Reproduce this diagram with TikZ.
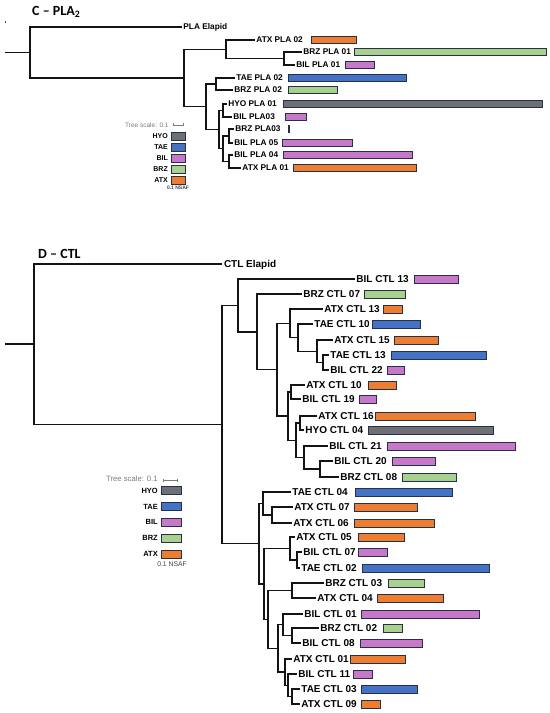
\documentclass[tikz,border=0pt]{standalone}
\usepackage{fontspec}
\setmainfont{Liberation Sans}
\newfontfamily\titlefont{Carlito}
\usetikzlibrary{arrows.meta}
\definecolor{cHYO}{RGB}{110,112,117}
\definecolor{cTAE}{RGB}{68,114,196}
\definecolor{cBIL}{RGB}{200,120,200}
\definecolor{cBRZ}{RGB}{169,209,142}
\definecolor{cATX}{RGB}{237,125,49}
\definecolor{barline}{RGB}{38,48,72}
\definecolor{scalegray}{RGB}{125,125,125}
\definecolor{branch}{RGB}{20,20,20}
\tikzset{
  br/.style={line width=1.3bp, draw=branch},
  barbox/.style={draw=barline, line width=0.9bp},
  labC/.style={anchor=west, inner xsep=1.2bp, inner ysep=0bp, text height=5.95bp, text depth=0bp,
    font=\fontsize{8.3bp}{10bp}\selectfont\bfseries},
  labD/.style={anchor=west, inner xsep=1.2bp, inner ysep=0bp, text height=7.2bp, text depth=0bp,
    font=\fontsize{10bp}{12bp}\selectfont\bfseries},
  titlelab/.style={anchor=base west, inner sep=0pt, font=\titlefont\fontsize{14bp}{16bp}\selectfont\bfseries},
  tscale/.style={anchor=west, inner sep=0pt, text=scalegray},
  scalebar/.style={draw=scalegray, line width=0.8bp, {Bar[width=3bp]}-{Bar[width=3bp]}},
  leglab/.style={anchor=east, inner sep=0pt, text height=5bp, text depth=0bp},
  nsaf/.style={inner sep=0pt, text=black!75},
}
\newcommand\leafC[7]{%
  \node[labC] (#1) at (#2,#3) {#4};
  \draw[barbox,fill=#7] (#5,#3-3.7) rectangle (#6,#3+3.7);}
\newcommand\leafD[7]{%
  \node[labD] (#1) at (#2,#3) {#4};
  \draw[barbox,fill=#7] (#5,#3-4) rectangle (#6,#3+4);}
\newcommand\elb[2]{\draw[br] (#1) |- (#2);}
\begin{document}
\begin{tikzpicture}[x=1bp,y=-1bp]
\useasboundingbox (0,0) rectangle (550,713);
\fill[white] (0,0) rectangle (550,713);

%% ================= C - PLA2 =================
\node[titlelab] (ctitle) at (32,15.5) {C – PLA\textsubscript{2}};
\fill[black!70] (4.5,21.5) rectangle (5.5,23.5);

\coordinate (croot) at (5,52.5);
\coordinate (c0) at (30,52.5);
\coordinate (c1) at (184,78);
\coordinate (c2) at (226,49.5);
\coordinate (c3) at (206,106.5);
\coordinate (c4) at (284,58.5);
\coordinate (c5) at (216,84);
\coordinate (c6) at (219,129.25);
\coordinate (c7) at (223,110.5);
\coordinate (c8) at (223,148.75);
\coordinate (c9) at (229,136);
\coordinate (c10) at (229,161.5);

\node[labC] (pEl) at (182,27) {PLA Elapid};
\leafC{pA02}{255}{40}{ATX PLA 02}{311}{356}{cATX}
\leafC{pZ01}{302}{52}{BRZ PLA 01}{354}{546}{cBRZ}
\leafC{pB01}{295}{65}{BIL PLA 01}{345}{374}{cBIL}
\leafC{pT02}{235}{78}{TAE PLA 02}{288}{406}{cTAE}
\leafC{pZ02}{233}{90}{BRZ PLA 02}{288}{337}{cBRZ}
\leafC{pH01}{227}{104}{HYO PLA 01}{283}{542}{cHYO}
\leafC{pB03}{232}{117}{BIL PLA03}{285}{306}{cBIL}
\leafC{pZ03}{234}{129}{BRZ PLA03}{288.6}{289.4}{cBRZ}
\leafC{pB05}{233}{143}{BIL PLA 05}{282}{352}{cBIL}
\leafC{pB04}{233}{155}{BIL PLA 04}{283}{412}{cBIL}
\leafC{pA01}{241}{168}{ATX PLA 01}{293}{416}{cATX}

\draw[br] (croot) -- (c0);
\elb{c0}{pEl.west} \elb{c0}{c1}
\elb{c1}{c2} \elb{c1}{c3}
\elb{c2}{pA02.west} \elb{c2}{c4}
\elb{c4}{pZ01.west} \elb{c4}{pB01.west}
\elb{c3}{c5} \elb{c3}{c6}
\elb{c5}{pT02.west} \elb{c5}{pZ02.west}
\elb{c6}{c7} \elb{c6}{c8}
\elb{c7}{pH01.west} \elb{c7}{pB03.west}
\elb{c8}{c9} \elb{c8}{c10}
\elb{c9}{pZ03.west} \elb{c9}{pB05.west}
\elb{c10}{pB04.west} \elb{c10}{pA01.west}

% legend C
\node[tscale, font=\fontsize{6.5bp}{8bp}\selectfont] (ctsl) at (125,125) {Tree scale: 0.1};
\coordinate (csa) at (173,125);
\coordinate (csb) at (184,125);
\draw[scalebar] (csa) -- (csb);
\foreach \nm/\col/\yy in {HYO/cHYO/136,TAE/cTAE/147,BIL/cBIL/158,BRZ/cBRZ/169,ATX/cATX/180}{
  \node[leglab, font=\fontsize{7bp}{8bp}\selectfont\bfseries, text height=5bp] (cleg\nm) at (168,\yy) {\nm};
  \draw[barbox,fill=\col] (171,\yy-4) rectangle (185,\yy+4);
}
\node[nsaf, font=\fontsize{5bp}{6bp}\selectfont\bfseries] (cnsaf) at (178,188) {0.1 NSAF};

%% ================= D - CTL =================
\node[titlelab] (dtitle) at (38,258.5) {D – CTL};

\coordinate (droot) at (5,344);
\coordinate (d0) at (34,344);
\coordinate (d1) at (222,424.6);
\coordinate (d2) at (238,305.5);
\coordinate (d3) at (257,332);
\coordinate (d4) at (277,369.75);
\coordinate (d5) at (290,323.3);
\coordinate (d7) at (298,337.6);
\coordinate (d8) at (317,351.25);
\coordinate (d9) at (323,362.5);
\coordinate (d6) at (288,416);
\coordinate (d10) at (291,392);
\coordinate (d11) at (296,440.25);
\coordinate (d12) at (300,423);
\coordinate (d13) at (304,457.5);
\coordinate (d14) at (320,469);
\coordinate (d15) at (259,543.75);
\coordinate (d16) at (263,503.5);
\coordinate (d18) at (272,515);
\coordinate (d17) at (264,584);
\coordinate (d19) at (290,548.5);
\coordinate (d21) at (297,560);
\coordinate (d20) at (268,619.5);
\coordinate (d22) at (292,590.5);
\coordinate (d23) at (278,648.4);
\coordinate (d24) at (283,624.75);
\coordinate (d26) at (292,635.5);
\coordinate (d25) at (285,672.1);
\coordinate (d27) at (288,685.25);
\coordinate (d28) at (292,696.5);

\node[labD, inner xsep=1.8bp] (dEl) at (222,264) {CTL Elapid};
\leafD{dB13}{355}{279}{BIL CTL 13}{414}{458}{cBIL}
\leafD{dZ07}{302}{294}{BRZ CTL 07}{364}{405}{cBRZ}
\leafD{dA13}{323}{309}{ATX CTL 13}{383}{402}{cATX}
\leafD{dT10}{313}{324}{TAE CTL 10}{372}{420}{cTAE}
\leafD{dA15}{333}{340}{ATX CTL 15}{394}{438}{cATX}
\leafD{dT13}{329}{355}{TAE CTL 13}{391}{486}{cTAE}
\leafD{dB22}{329}{370}{BIL CTL 22}{387}{404}{cBIL}
\leafD{dA10}{305}{385}{ATX CTL 10}{368}{396}{cATX}
\leafD{dB19}{301}{399}{BIL CTL 19}{359}{376}{cBIL}
\leafD{dA16}{317}{416}{ATX CTL 16}{375}{475}{cATX}
\leafD{dH04}{304}{430}{HYO CTL 04}{368}{493}{cHYO}
\leafD{dB21}{328}{446}{BIL CTL 21}{387}{515}{cBIL}
\leafD{dB20}{333}{461}{BIL CTL 20}{392}{435}{cBIL}
\leafD{dZ08}{339}{477}{BRZ CTL 08}{402}{456}{cBRZ}
\leafD{dT04}{291}{492}{TAE CTL 04}{355}{452}{cTAE}
\leafD{dA07}{293}{507}{ATX CTL 07}{354}{417}{cATX}
\leafD{dA06}{292}{523}{ATX CTL 06}{354}{434}{cATX}
\leafD{dA05}{295}{537}{ATX CTL 05}{358}{404}{cATX}
\leafD{dB07}{302}{552}{BIL CTL 07}{358}{387}{cBIL}
\leafD{dT02}{300}{568}{TAE CTL 02}{362}{489}{cTAE}
\leafD{dZ03}{324}{583}{BRZ CTL 03}{388}{424}{cBRZ}
\leafD{dA04}{316}{598}{ATX CTL 04}{377}{443}{cATX}
\leafD{dB01}{303}{614}{BIL CTL 01}{361}{479}{cBIL}
\leafD{dZ02}{319}{628}{BRZ CTL 02}{383}{402}{cBRZ}
\leafD{dB08}{301}{643}{BIL CTL 08}{360}{422}{cBIL}
\leafD{dA01}{292}{659}{ATX CTL 01}{350}{405}{cATX}
\leafD{dB11}{297}{674}{BIL CTL 11}{353}{372}{cBIL}
\leafD{dT03}{300}{689}{TAE CTL 03}{361}{417}{cTAE}
\leafD{dA09}{300}{704}{ATX CTL 09}{361}{380}{cATX}

\draw[br] (droot) -- (d0);
\elb{d0}{dEl.west} \elb{d0}{d1}
\elb{d1}{d2} \elb{d1}{d15}
\elb{d2}{dB13.west} \elb{d2}{d3}
\elb{d3}{dZ07.west} \elb{d3}{d4}
\elb{d4}{d5} \elb{d4}{d6}
\elb{d5}{dA13.west} \elb{d5}{d7}
\elb{d7}{dT10.west} \elb{d7}{d8}
\elb{d8}{dA15.west} \elb{d8}{d9}
\elb{d9}{dT13.west} \elb{d9}{dB22.west}
\elb{d6}{d10} \elb{d6}{d11}
\elb{d10}{dA10.west} \elb{d10}{dB19.west}
\elb{d11}{d12} \elb{d11}{d13}
\elb{d12}{dA16.west} \elb{d12}{dH04.west}
\elb{d13}{dB21.west} \elb{d13}{d14}
\elb{d14}{dB20.west} \elb{d14}{dZ08.west}
\elb{d15}{d16} \elb{d15}{d17}
\elb{d16}{dT04.west} \elb{d16}{d18}
\elb{d18}{dA07.west} \elb{d18}{dA06.west}
\elb{d17}{d19} \elb{d17}{d20}
\elb{d19}{dA05.west} \elb{d19}{d21}
\elb{d21}{dB07.west} \elb{d21}{dT02.west}
\elb{d20}{d22} \elb{d20}{d23}
\elb{d22}{dZ03.west} \elb{d22}{dA04.west}
\elb{d23}{d24} \elb{d23}{d25}
\elb{d24}{dB01.west} \elb{d24}{d26}
\elb{d26}{dZ02.west} \elb{d26}{dB08.west}
\elb{d25}{dA01.west} \elb{d25}{d27}
\elb{d27}{dB11.west} \elb{d27}{d28}
\elb{d28}{dT03.west} \elb{d28}{dA09.west}

% legend D
\node[tscale, font=\fontsize{7.7bp}{9bp}\selectfont] (dtsl) at (106,479) {Tree scale: 0.1};
\coordinate (dsa) at (163,480);
\coordinate (dsb) at (178,480);
\draw[scalebar] (dsa) -- (dsb);
\foreach \nm/\col/\yy in {HYO/cHYO/490.5,TAE/cTAE/506.5,BIL/cBIL/522,BRZ/cBRZ/538,ATX/cATX/554}{
  \node[leglab, font=\fontsize{7.5bp}{9bp}\selectfont\bfseries, text height=5.4bp] (dleg\nm) at (158,\yy) {\nm};
  \draw[barbox,fill=\col] (161,\yy-4) rectangle (181,\yy+4);
}
\node[nsaf, font=\fontsize{6.8bp}{8bp}\selectfont] (dnsaf) at (172,564) {0.1 NSAF};
\end{tikzpicture}
\end{document}
